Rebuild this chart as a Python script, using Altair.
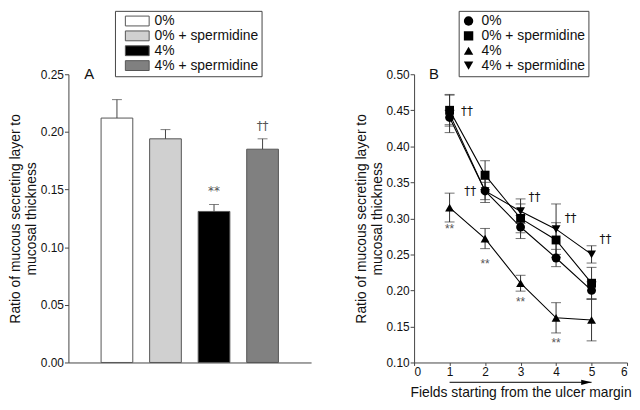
import altair as alt
import pandas as pd

FONT = "Liberation Sans"

# ---------------- Panel A data ----------------
groups = ["0%", "0% + spermidine", "4%", "4% + spermidine"]
a_means = [0.212, 0.194, 0.131, 0.185]
a_errs = [0.016, 0.008, 0.006, 0.009]
a_fills = ["#ffffff", "#d0d0d0", "#000000", "#808080"]
a_sig_text = ["**", "\u2020\u2020"]
a_sig_group = ["4%", "4% + spermidine"]
a_sig_y = [0.149, 0.205]

# ---------------- Panel B data ----------------
fields = [1, 2, 3, 4, 5]
b_0 = [0.440, 0.338, 0.288, 0.245, 0.200]
b_0_err = [0.010, 0.016, 0.016, 0.012, 0.012]
b_0s = [0.450, 0.360, 0.300, 0.270, 0.210]
b_0s_err = [0.022, 0.020, 0.020, 0.024, 0.022]
b_4 = [0.315, 0.272, 0.210, 0.162, 0.159]
b_4_err = [0.020, 0.014, 0.011, 0.021, 0.029]
b_4s = [0.445, 0.338, 0.310, 0.285, 0.250]
b_4s_err = [0.026, 0.012, 0.017, 0.035, 0.012]
b_shapes = ["circle", "square", "triangle-up", "triangle-down"]

star_x = [1, 2, 3, 4]
star_y = [0.285, 0.237, 0.184, 0.127]
dag_x = [1.49, 1.58, 3.39, 4.41, 5.39]
dag_y = [0.449, 0.338, 0.330, 0.300, 0.272]

arrow_start = 1
arrow_end = 5
arrow_y = 0.0725

YTITLE = ["Ratio of mucous secreting layer to", "mucosal thickness"]
H = 291

# ---------------- Panel A ----------------
dfA = pd.DataFrame({"group": groups, "mean": a_means, "err": a_errs})
dfA["top"] = dfA["mean"] + dfA["err"]
dfAsig = pd.DataFrame({"group": a_sig_group, "y": a_sig_y, "t": a_sig_text})

axisXA = alt.Axis(labels=False, ticks=False, title=None, domainColor="#444", domainWidth=1)
scaleXA = alt.Scale(domain=groups, paddingInner=0.347, paddingOuter=0.673)
axisYA = alt.Axis(values=[0, 0.05, 0.10, 0.15, 0.20, 0.25], format=".2f", title=YTITLE,
                  grid=False, tickSize=4, labelPadding=1, titlePadding=2,
                  titleLineHeight=16)
scaleYA = alt.Scale(domain=[0, 0.25], nice=False, zero=False)


def XA():
    return alt.X("group:N", sort=groups, scale=scaleXA, axis=axisXA)


def YA(f):
    return alt.Y(f, scale=scaleYA, axis=axisYA)


bars = alt.Chart(dfA).mark_bar(stroke="#555", strokeWidth=1).encode(
    x=XA(), y=YA("mean:Q"),
    fill=alt.Fill("group:N", scale=alt.Scale(domain=groups, range=a_fills),
                  legend=alt.Legend(
                      orient="none", legendX=47, legendY=-64, title=None,
                      symbolType="M0,-0.71L3.43,-0.71L3.43,0.71L0,0.71Z",
                      symbolSize=196, symbolStrokeColor="#555", symbolStrokeWidth=1,
                      labelFontSize=14, labelFont=FONT, labelColor="#111",
                      labelOffset=22, rowPadding=0, padding=3, clipHeight=14.5,
                      strokeColor="#444", fillColor="white")))

errA = alt.Chart(dfA).mark_rule(color="#444", strokeWidth=1).encode(
    x=XA(), y=YA("mean:Q"), y2="top:Q")
capA = alt.Chart(dfA).mark_tick(orient="horizontal", size=10, thickness=1,
                                color="#444").encode(x=XA(), y=YA("top:Q"))
sigA = alt.Chart(dfAsig).mark_text(fontSize=12, font="DejaVu Sans", color="#555",
                                   baseline="middle").encode(
    x=XA(), y=YA("y:Q"), text="t:N")
labA = alt.Chart(pd.DataFrame({"t": ["A"]})).mark_text(
    fontSize=15, font=FONT, color="#111", baseline="middle").encode(
    text="t:N", x=alt.value(21), y=alt.value(0))

panelA = alt.layer(bars, errA, capA, sigA, labA).properties(width=245, height=H)

# ---------------- Panel B ----------------
rows = []
for name, vals, errs in zip(groups, [b_0, b_0s, b_4, b_4s],
                            [b_0_err, b_0s_err, b_4_err, b_4s_err]):
    for f, v, e in zip(fields, vals, errs):
        rows.append({"field": f, "group": name, "value": v, "lo": v - e, "hi": v + e})
dfB = pd.DataFrame(rows)

axisXB = alt.Axis(values=[0, 1, 2, 3, 4, 5, 6], format="d",
                  title="Fields starting from the ulcer margin",
                  grid=False, tickSize=3, labelPadding=1, titlePadding=8,
                  labelOverlap=False, labelFlush=True)
scaleXB = alt.Scale(domain=[0, 6], nice=False, zero=False)
axisYB = alt.Axis(values=[0.10, 0.15, 0.20, 0.25, 0.30, 0.35, 0.40, 0.45, 0.50],
                  format=".2f", title=YTITLE, labelOverlap=False, labelFlush=False,
                  grid=False, tickSize=4, labelPadding=1, titlePadding=2,
                  titleLineHeight=16)
scaleYB = alt.Scale(domain=[0.10, 0.50], nice=False, zero=False)


def XB(f):
    return alt.X(f, scale=scaleXB, axis=axisXB)


def YB(f):
    return alt.Y(f, scale=scaleYB, axis=axisYB)


linesB = alt.Chart(dfB).mark_line(color="black", strokeWidth=1.1).encode(
    x=XB("field:Q"), y=YB("value:Q"), detail="group:N")
errB = alt.Chart(dfB).mark_rule(color="#333", strokeWidth=1).encode(
    x=XB("field:Q"), y=YB("lo:Q"), y2="hi:Q")
capLo = alt.Chart(dfB).mark_tick(orient="horizontal", size=10, thickness=1,
                                 color="#333").encode(x=XB("field:Q"), y=YB("lo:Q"))
capHi = alt.Chart(dfB).mark_tick(orient="horizontal", size=10, thickness=1,
                                 color="#333").encode(x=XB("field:Q"), y=YB("hi:Q"))
ptsB = alt.Chart(dfB).mark_point(filled=True, color="black", size=80, opacity=1).encode(
    x=XB("field:Q"), y=YB("value:Q"),
    shape=alt.Shape("group:N", scale=alt.Scale(domain=groups, range=b_shapes),
                    legend=alt.Legend(
                        orient="none", legendX=45, legendY=-64, title=None,
                        symbolSize=90, symbolFillColor="black", symbolStrokeColor="black",
                        labelFontSize=14, labelFont=FONT, labelColor="#111",
                        labelOffset=6, rowPadding=0, padding=3, clipHeight=14.5,
                        strokeColor="#444", fillColor="white")))

dfStar = pd.DataFrame({"x": star_x, "y": star_y, "t": ["**"] * len(star_x)})
dfDag = pd.DataFrame({"x": dag_x, "y": dag_y, "t": ["\u2020\u2020"] * len(dag_x)})
starB = alt.Chart(dfStar).mark_text(fontSize=12, font=FONT, color="#555",
                                    baseline="middle").encode(
    x=XB("x:Q"), y=YB("y:Q"), text="t:N")
dagB = alt.Chart(dfDag).mark_text(fontSize=12, font="DejaVu Sans", color="#111",
                                  baseline="middle").encode(
    x=XB("x:Q"), y=YB("y:Q"), text="t:N")

dfArrow = pd.DataFrame({"x": [arrow_start], "x2": [arrow_end], "y": [arrow_y]})
arrowLine = alt.Chart(dfArrow).mark_rule(color="black", strokeWidth=1).encode(
    x=XB("x:Q"), x2="x2:Q", y=YB("y:Q"))
arrowHead = alt.Chart(dfArrow).mark_point(
    shape="M0,0L-2,-0.5L-2,0.5Z", size=110, filled=True, color="black",
    opacity=1).encode(x=XB("x2:Q"), y=YB("y:Q"))
labB = alt.Chart(pd.DataFrame({"t": ["B"]})).mark_text(
    fontSize=15, font=FONT, color="#111", baseline="middle").encode(
    text="t:N", x=alt.value(20), y=alt.value(0))

panelB = alt.layer(linesB, errB, capLo, capHi, ptsB, starB, dagB,
                   arrowLine, arrowHead, labB).properties(width=215, height=H)

chart = alt.hconcat(panelA, panelB, spacing=43).resolve_scale(
    fill="independent", shape="independent", x="independent", y="independent"
).properties(padding=0).configure(font=FONT).configure_view(stroke=None).configure_axis(
    labelFont=FONT, labelFontSize=12, labelColor="#111",
    titleFont=FONT, titleFontSize=14, titleFontWeight="normal", titleColor="#111",
    domainColor="#444", tickColor="#444"
)

chart.save("out.html", embed_options={"renderer": "svg", "actions": False})
